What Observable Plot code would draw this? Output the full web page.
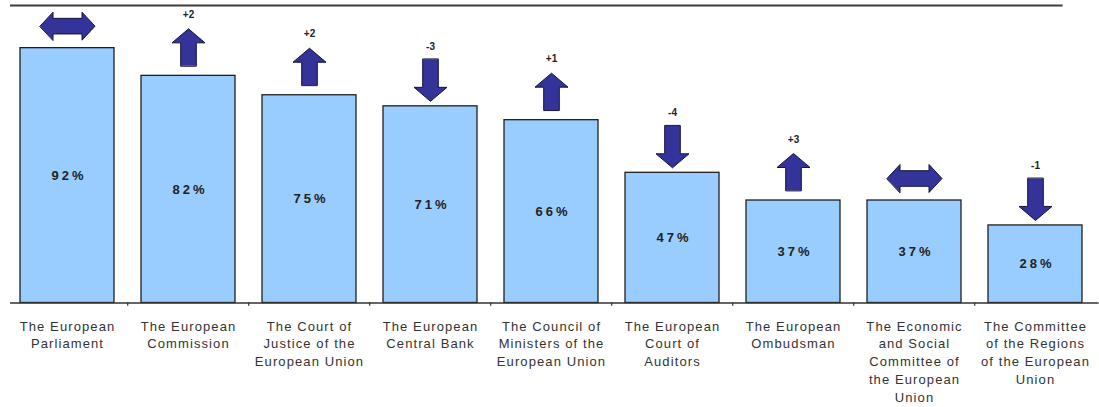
<!DOCTYPE html>
<html>
<head>
<meta charset="utf-8">
<script src="https://cdn.jsdelivr.net/npm/d3@7"></script>
<script src="https://cdn.jsdelivr.net/npm/@observablehq/plot@0.6"></script>
<style>
  html, body { margin: 0; padding: 0; background: #fff; }
  #chart svg { display: block; }
  g[aria-description="pct"] text { letter-spacing: 3px; }
  g[aria-label="x-axis tick label"] text { letter-spacing: 1.1px; }
</style>
</head>
<body>
<div id="chart"></div>
<script>
const categories = [
  "The European\nParliament",
  "The European\nCommission",
  "The Court of\nJustice of the\nEuropean Union",
  "The European\nCentral Bank",
  "The Council of\nMinisters of the\nEuropean Union",
  "The European\nCourt of\nAuditors",
  "The European\nOmbudsman",
  "The Economic\nand Social\nCommittee of\nthe European\nUnion",
  "The Committee\nof the Regions\nof the European\nUnion"
];
const values = [92, 82, 75, 71, 66, 47, 37, 37, 28];
const changes = [0, 2, 2, -3, 1, -4, 3, 0, -1];
const changeLabels = ["", "+2", "+2", "-3", "+1", "-4", "+3", "", "-1"];
const yMax = 107.4;

const rows = categories.map((c, i) => ({
  category: c, value: values[i], change: changes[i], changeLabel: changeLabels[i]
}));

const W = 1099, H = 407, ML = 4.4, MR = 0.4;
const step = (W - ML - MR) / categories.length;

// block arrow shapes (drawn from 0 to -l, pointing up)
const blockArrow = {
  draw(ctx, l) {
    const w = 7.8, h = 16.5, k = 14;
    ctx.moveTo(-w, 0);
    ctx.lineTo(-w, -l + k);
    ctx.lineTo(-h, -l + k);
    ctx.lineTo(0, -l);
    ctx.lineTo(h, -l + k);
    ctx.lineTo(w, -l + k);
    ctx.lineTo(w, 0);
    ctx.closePath();
  }
};
const doubleArrow = {
  draw(ctx, l) {
    const w = 7.8, h = 14, k = 13;
    ctx.moveTo(0, 0);
    ctx.lineTo(-h, -k);
    ctx.lineTo(-w, -k);
    ctx.lineTo(-w, -l + k);
    ctx.lineTo(-h, -l + k);
    ctx.lineTo(0, -l);
    ctx.lineTo(h, -l + k);
    ctx.lineTo(w, -l + k);
    ctx.lineTo(w, -k);
    ctx.lineTo(h, -k);
    ctx.closePath();
  }
};

const arrowFill = "#333399", arrowStroke = "#14143c";
const font = "'Liberation Sans', Arial, Helvetica, sans-serif";

const chart = Plot.plot({
  width: W,
  height: H,
  marginLeft: ML,
  marginRight: MR,
  marginTop: 5,
  marginBottom: 104.5,
  style: { fontFamily: font, background: "#fff", color: "#333" },
  x: { domain: categories, paddingInner: 0.22, paddingOuter: 0.11, axis: null },
  y: { domain: [0, yMax], axis: null },
  marks: [
    Plot.ruleY([yMax], { stroke: "#3c3c3c", strokeWidth: 2, insetLeft: 5.6, insetRight: 36 }),
    Plot.barY(rows, { x: "category", y: "value", fill: "#99CCFF", stroke: "#1f1f1f", strokeWidth: 1.3 }),
    Plot.ruleY([0], { stroke: "#333", strokeWidth: 1.5, insetLeft: 5.6 }),
    Plot.ruleX(categories.slice(1), { x: d => d, y1: 0, y2: -1.2, dx: -step / 2, stroke: "#333", strokeWidth: 1.2 }),
    Plot.text(rows, {
      x: "category", y: d => d.value / 2, text: d => d.value + "%",
      fontSize: 13, fontWeight: "bold", fill: "#222", dx: 1.5, ariaDescription: "pct"
    }),
    Plot.vector(rows.filter(d => d.change > 0), {
      x: "category", y: "value", length: 37, rotate: 0, anchor: "start", dy: -10,
      shape: blockArrow, fill: arrowFill, stroke: arrowStroke, strokeWidth: 1, strokeLinejoin: "miter"
    }),
    Plot.vector(rows.filter(d => d.change < 0), {
      x: "category", y: "value", length: 42, rotate: 180, anchor: "end", dy: -5,
      shape: blockArrow, fill: arrowFill, stroke: arrowStroke, strokeWidth: 1, strokeLinejoin: "miter"
    }),
    Plot.vector(rows.filter(d => d.change === 0), {
      x: "category", y: "value", length: 55, rotate: 90, anchor: "middle", dy: -22,
      shape: doubleArrow, fill: arrowFill, stroke: arrowStroke, strokeWidth: 1, strokeLinejoin: "miter"
    }),
    Plot.text(rows.filter(d => d.change > 0), {
      x: "category", y: "value", text: "changeLabel", dy: -61,
      fontSize: 10, fontWeight: "bold", fill: "#222"
    }),
    Plot.text(rows.filter(d => d.change < 0), {
      x: "category", y: "value", text: "changeLabel", dy: -60,
      fontSize: 10, fontWeight: "bold", fill: "#222"
    }),
    Plot.axisX({
      tickSize: 0, tickPadding: 15, lineHeight: 1.365, fontSize: 13,
      fill: "#333", label: null, tickFormat: d => d
    })
  ]
});
document.getElementById("chart").appendChild(chart);
</script>
</body>
</html>
